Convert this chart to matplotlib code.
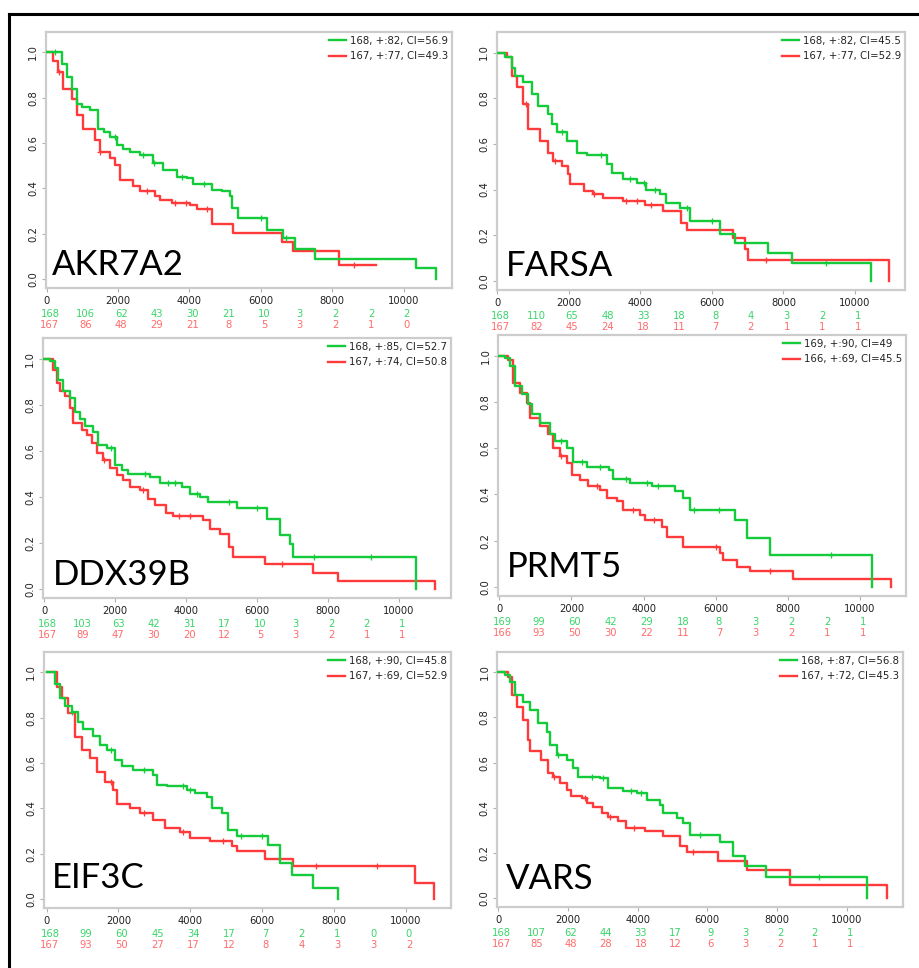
import matplotlib
matplotlib.use("Agg")
import matplotlib.pyplot as plt
import matplotlib.transforms as mtransforms
from matplotlib.lines import Line2D
import numpy as np

GREEN = '#14cc3a'
RED = '#ff3a3a'
GREEN_TXT = '#3ad56a'
RED_TXT = '#ff6b6b'

genes = ['AKR7A2', 'FARSA', 'DDX39B', 'PRMT5', 'EIF3C', 'VARS']

legend_green = ['168, +:82, CI=56.9', '168, +:82, CI=45.5', '168, +:85, CI=52.7',
                '169, +:90, CI=49', '168, +:90, CI=45.8', '168, +:87, CI=56.8']
legend_red = ['167, +:77, CI=49.3', '167, +:77, CI=52.9', '167, +:74, CI=50.8',
              '166, +:69, CI=45.5', '167, +:69, CI=52.9', '167, +:72, CI=45.3']

# number at risk, at 0, 1000, ... 10000
risk_times = [0, 1000, 2000, 3000, 4000, 5000, 6000, 7000, 8000, 9000, 10000]
risk_green = [
    [168, 106, 62, 43, 30, 21, 10, 3, 2, 2, 2],
    [168, 110, 65, 48, 33, 18, 8, 4, 3, 2, 1],
    [168, 103, 63, 42, 31, 17, 10, 3, 2, 2, 1],
    [169, 99, 60, 42, 29, 18, 8, 3, 2, 2, 1],
    [168, 99, 60, 45, 34, 17, 7, 2, 1, 0, 0],
    [168, 107, 62, 44, 33, 17, 9, 3, 2, 2, 1],
]
risk_red = [
    [167, 86, 48, 29, 21, 8, 5, 3, 2, 1, 0],
    [167, 82, 45, 24, 18, 11, 7, 2, 1, 1, 1],
    [167, 89, 47, 30, 20, 12, 5, 3, 2, 1, 1],
    [166, 93, 50, 30, 22, 11, 7, 3, 2, 1, 1],
    [167, 93, 50, 27, 17, 12, 8, 4, 3, 3, 2],
    [167, 85, 48, 28, 18, 12, 6, 3, 2, 1, 1],
]

# Kaplan-Meier steps (time, survival)
akr_g_t = [0, 420, 560, 700, 840, 1000, 1210, 1450, 1600, 1770, 1960, 2150, 2330, 2610, 2985, 3265,
           3640, 3920, 4100, 4620, 4900, 5130, 5200, 5365, 6180, 6620, 6950, 7510, 10350, 10900]
akr_g_s = [1.0, 0.95, 0.89, 0.84, 0.774, 0.76, 0.745, 0.664, 0.65, 0.628, 0.59, 0.575, 0.562, 0.547,
           0.51, 0.48, 0.45, 0.445, 0.42, 0.394, 0.387, 0.365, 0.314, 0.27, 0.215, 0.182, 0.134, 0.09,
           0.047, 0.0]
akr_r_t = [0, 190, 330, 470, 700, 840, 1030, 1350, 1490, 1770, 1910, 2050, 2425, 2610, 3030, 3170,
           3500, 4010, 4200, 4620, 5220, 6580, 6900, 8190, 9235]
akr_r_s = [1.0, 0.96, 0.912, 0.84, 0.796, 0.723, 0.664, 0.613, 0.562, 0.533, 0.504, 0.438, 0.409,
           0.387, 0.365, 0.35, 0.336, 0.328, 0.307, 0.244, 0.204, 0.165, 0.124, 0.063, 0.063]

far_g_t = [0, 215, 400, 490, 730, 960, 1150, 1430, 1520, 1660, 1940, 2220, 2500, 3060, 3200, 3520,
           3900, 4170, 4550, 4730, 5100, 5390, 6230, 6640, 7580, 8230, 10440]
far_g_s = [1.0, 0.98, 0.934, 0.898, 0.869, 0.818, 0.766, 0.73, 0.686, 0.65, 0.613, 0.562, 0.552,
           0.511, 0.474, 0.445, 0.43, 0.40, 0.38, 0.343, 0.321, 0.263, 0.204, 0.164, 0.121, 0.08, 0.0]
far_r_t = [0, 260, 400, 540, 730, 870, 1190, 1430, 1570, 1800, 1990, 2030, 2410, 2680, 2960, 3520,
           4130, 4640, 5125, 5290, 6600, 6920, 7010, 10960]
far_r_s = [1.0, 0.98, 0.898, 0.847, 0.774, 0.664, 0.613, 0.562, 0.526, 0.504, 0.467, 0.423, 0.394,
           0.382, 0.365, 0.35, 0.333, 0.307, 0.255, 0.222, 0.187, 0.139, 0.092, 0.0]

ddx_g_t = [0, 170, 310, 400, 545, 730, 875, 1015, 1155, 1390, 1530, 1765, 2000, 2190, 2375, 2985,
           3270, 3880, 4110, 4390, 4630, 5430, 6270, 6650, 6930, 7020, 10480]
ddx_g_s = [1.0, 0.99, 0.96, 0.908, 0.858, 0.828, 0.77, 0.74, 0.708, 0.683, 0.625, 0.61, 0.538, 0.516,
           0.50, 0.487, 0.458, 0.443, 0.414, 0.40, 0.378, 0.349, 0.305, 0.233, 0.196, 0.138, 0.0]
ddx_r_t = [0, 260, 360, 450, 590, 730, 825, 1060, 1200, 1340, 1480, 1670, 1860, 2050, 2230, 2420,
           2700, 2940, 3130, 3450, 3640, 4490, 4680, 4970, 5200, 5330, 6230, 7590, 8290, 11010]
ddx_r_s = [1.0, 0.952, 0.894, 0.858, 0.836, 0.785, 0.72, 0.69, 0.669, 0.632, 0.589, 0.56, 0.523,
           0.494, 0.475, 0.443, 0.43, 0.392, 0.363, 0.33, 0.317, 0.298, 0.262, 0.24, 0.182, 0.138,
           0.109, 0.068, 0.036, 0.0]

prm_g_t = [0, 160, 300, 435, 620, 800, 900, 1130, 1400, 1545, 1870, 2050, 2420, 3050, 3160, 3620,
           4225, 4870, 5100, 5290, 6535, 6860, 7500, 10320]
prm_g_s = [1.0, 0.99, 0.957, 0.87, 0.833, 0.79, 0.746, 0.71, 0.66, 0.63, 0.60, 0.54, 0.52, 0.505,
           0.467, 0.45, 0.435, 0.413, 0.384, 0.333, 0.29, 0.21, 0.138, 0.0]
prm_r_t = [0, 250, 390, 575, 760, 850, 1130, 1360, 1500, 1680, 1870, 2005, 2235, 2465, 2790, 2975,
           3250, 3440, 3900, 4040, 4500, 4640, 5100, 6120, 6210, 6580, 6950, 8150, 10850]
prm_r_s = [1.0, 0.98, 0.884, 0.84, 0.797, 0.732, 0.696, 0.66, 0.60, 0.565, 0.536, 0.486, 0.464,
           0.435, 0.42, 0.384, 0.37, 0.333, 0.312, 0.29, 0.26, 0.217, 0.174, 0.145, 0.116, 0.087,
           0.07, 0.032, 0.0]

eif_g_t = [0, 230, 370, 510, 700, 880, 1020, 1300, 1485, 1670, 1900, 2090, 2415, 2970, 3065, 3340,
           3900, 4130, 4460, 4600, 4880, 5060, 5290, 6170, 6500, 6820, 7430, 8110]
eif_g_s = [1.0, 0.95, 0.885, 0.85, 0.826, 0.78, 0.75, 0.72, 0.68, 0.657, 0.614, 0.585, 0.57, 0.548,
           0.504, 0.497, 0.482, 0.467, 0.452, 0.40, 0.38, 0.306, 0.277, 0.24, 0.16, 0.107, 0.05, 0.0]
eif_r_t = [0, 280, 420, 600, 790, 975, 1210, 1395, 1625, 1860, 1950, 2320, 2600, 2970, 3300, 3710,
           3990, 4550, 5150, 5290, 6080, 6870, 10260, 10790]
eif_r_s = [1.0, 0.937, 0.885, 0.82, 0.717, 0.658, 0.62, 0.56, 0.515, 0.48, 0.42, 0.40, 0.378, 0.35,
           0.312, 0.297, 0.268, 0.254, 0.232, 0.21, 0.176, 0.144, 0.07, 0.0]

var_g_t = [0, 190, 335, 480, 720, 910, 1150, 1390, 1480, 1675, 1960, 2150, 2300, 2920, 3160, 3590,
           3970, 4260, 4640, 4740, 5120, 5310, 5500, 6360, 6750, 7080, 7700, 10600]
var_g_s = [1.0, 0.99, 0.959, 0.90, 0.87, 0.835, 0.774, 0.737, 0.68, 0.634, 0.612, 0.575, 0.538,
           0.53, 0.487, 0.472, 0.465, 0.435, 0.413, 0.376, 0.354, 0.332, 0.28, 0.25, 0.187, 0.14,
           0.093, 0.0]
var_r_t = [0, 290, 380, 525, 720, 860, 910, 1240, 1430, 1580, 1770, 1960, 2100, 2390, 2540, 2730,
           2970, 3160, 3440, 3680, 4210, 4740, 5220, 5410, 6310, 7130, 8370, 11150]
var_r_s = [1.0, 0.98, 0.90, 0.848, 0.79, 0.70, 0.65, 0.612, 0.553, 0.538, 0.509, 0.48, 0.45, 0.443,
           0.42, 0.405, 0.376, 0.36, 0.34, 0.31, 0.295, 0.273, 0.23, 0.205, 0.162, 0.125, 0.059, 0.0]

# censored times (little + marks)
cens_g = [
    [230, 1900, 2700, 3000, 3800, 4400, 6000, 6700],
    [1800, 2900, 3700, 4100, 4400, 5300, 6000, 9200],
    [1900, 2850, 3500, 3700, 4300, 5200, 6000, 7600, 9200],
    [1700, 2300, 2800, 3500, 4100, 4400, 5400, 6100, 9200],
    [700, 1800, 2700, 3800, 4000, 5400, 6000],
    [1700, 2700, 3000, 3800, 4100, 5800, 9200],
]
cens_r = [
    [350, 1500, 2800, 3600, 3900, 4500, 8600],
    [800, 1600, 2700, 3600, 3900, 4300, 7500],
    [1700, 2800, 3800, 4100, 6700],
    [1700, 2700, 3700, 4300, 6000, 7500],
    [1800, 2700, 3800, 4900, 7500, 9200],
    [1600, 2500, 3200, 3900, 5600],
]

curves_g = [(akr_g_t, akr_g_s), (far_g_t, far_g_s), (ddx_g_t, ddx_g_s),
            (prm_g_t, prm_g_s), (eif_g_t, eif_g_s), (var_g_t, var_g_s)]
curves_r = [(akr_r_t, akr_r_s), (far_r_t, far_r_s), (ddx_r_t, ddx_r_s),
            (prm_r_t, prm_r_s), (eif_r_t, eif_r_s), (var_r_t, var_r_s)]

# layout in pixels: left, top, right, bottom of each plot frame
W, H = 920, 968
frames = [(45.7, 32, 452, 288), (496.7, 32, 905, 290),
          (42.7, 338, 450.7, 598), (498.3, 335, 905.7, 596),
          (44, 652, 450.7, 908), (497.3, 652, 902.7, 907)]
xlims = [(-28, 11353), (-17, 11398), (-37, 11456), (-28, 11267), (-75, 11253), (-29, 11611)]
gene_pos = [(0.016, 0.05), (0.023, 0.054), (0.024, 0.05), (0.02, 0.073), (0.02, 0.079), (0.02, 0.072)]

fig = plt.figure(figsize=(W / 100, H / 100), dpi=100)
fig.patch.set_facecolor('white')


def surv_at(t, s, x):
    i = np.searchsorted(np.array(t), x, side='right') - 1
    return s[max(i, 0)]


for k in range(6):
    l, tp, r, b = frames[k]
    ax = fig.add_axes([l / W, 1 - b / H, (r - l) / W, (b - tp) / H])
    gt, gs = curves_g[k]
    rt, rs = curves_r[k]
    ax.step(gt, gs, where='post', color=GREEN, lw=1.7, label=legend_green[k], zorder=3)
    ax.step(rt, rs, where='post', color=RED, lw=1.7, label=legend_red[k], zorder=2)
    ax.plot(cens_g[k], [surv_at(gt, gs, c) for c in cens_g[k]], ls='none', marker='+',
            ms=4, mew=0.9, color=GREEN, zorder=3)
    ax.plot(cens_r[k], [surv_at(rt, rs, c) for c in cens_r[k]], ls='none', marker='+',
            ms=4, mew=0.9, color=RED, zorder=2)

    ax.set_xlim(*xlims[k])
    ax.set_ylim(-0.04, 1.09)
    ax.set_xticks([0, 2000, 4000, 6000, 8000, 10000])
    ax.set_yticks([0.0, 0.2, 0.4, 0.6, 0.8, 1.0])
    ax.set_yticklabels(['0.0', '0.2', '0.4', '0.6', '0.8', '1.0'])
    ax.tick_params(length=3, width=0.8, color='#b0b0b0', labelsize=7.2, labelcolor='#222222', pad=2.5)
    ax.tick_params(axis='y', labelrotation=90)
    for lab in ax.get_yticklabels():
        lab.set_va('center')
    for sp in ax.spines.values():
        sp.set_color('#cccccc')
        sp.set_linewidth(1.6)

    leg = ax.legend(loc='upper right', frameon=False, fontsize=7.3, handlelength=1.7,
                    handletextpad=0.4, labelspacing=0.55, borderaxespad=0.05, borderpad=0.3)
    for txt in leg.get_texts():
        txt.set_color('#222222')

    ax.text(gene_pos[k][0], gene_pos[k][1], genes[k], transform=ax.transAxes,
            fontsize=25, family=['Lato', 'DejaVu Sans'], color='black', ha='left', va='baseline')

    base = mtransforms.blended_transform_factory(ax.transData, ax.transAxes)
    tr_g = mtransforms.offset_copy(base, fig=fig, y=-26, units='dots')
    tr_r = mtransforms.offset_copy(base, fig=fig, y=-37, units='dots')
    for i, t in enumerate(risk_times):
        ax.text(t + 90, 0, str(risk_green[k][i]), transform=tr_g, ha='center', va='center',
                fontsize=7.2, color=GREEN_TXT, clip_on=False)
        ax.text(t + 90, 0, str(risk_red[k][i]), transform=tr_r, ha='center', va='center',
                fontsize=7.2, color=RED_TXT, clip_on=False)

# outer border (left and top only are visible)
fig.add_artist(Line2D([9 / W, 9 / W], [0, 1 - 14 / H], color='black', lw=2.2))
fig.add_artist(Line2D([9 / W, 1], [1 - 14 / H, 1 - 14 / H], color='black', lw=2.2))

fig.savefig('out.png', dpi=100, facecolor='white')
